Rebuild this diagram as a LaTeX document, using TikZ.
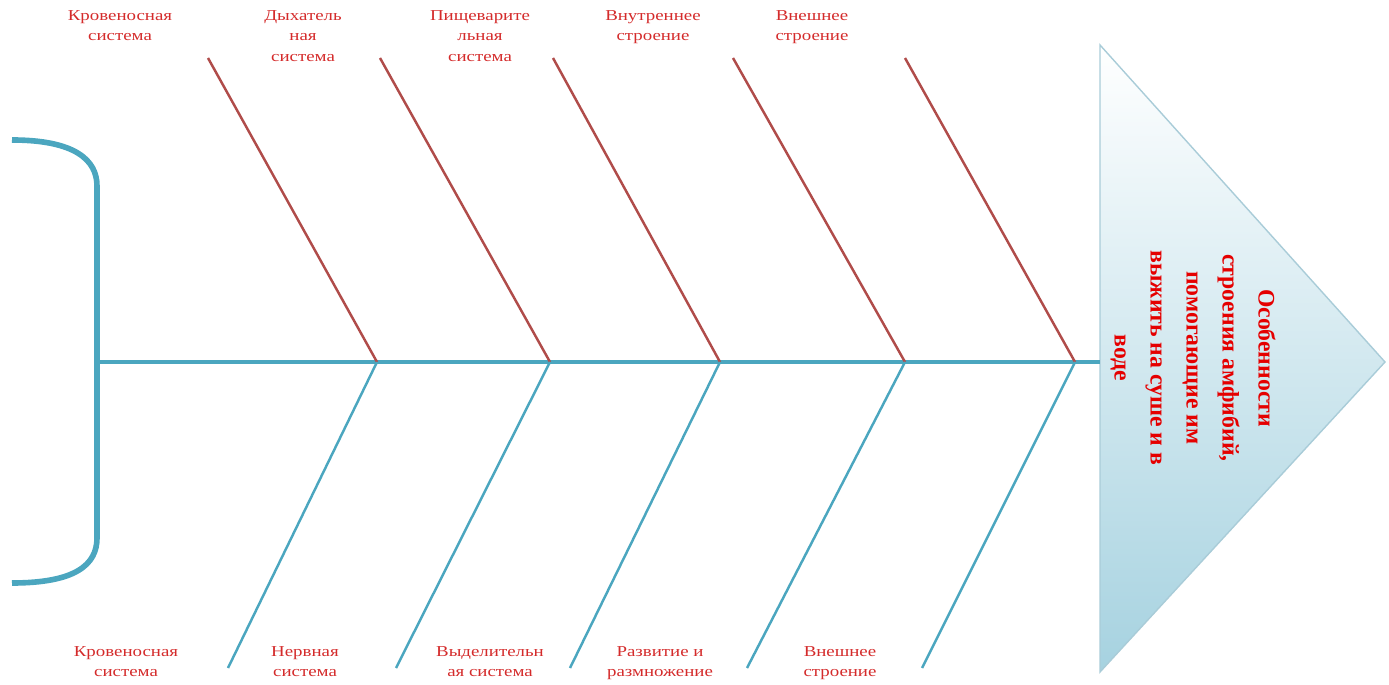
\documentclass[tikz,border=0pt]{standalone}
\usepackage{fontspec}
\setmainfont{Liberation Serif}
\newfontfamily\lblfont[FakeStretch=1.25]{Liberation Serif}
\usetikzlibrary{positioning}
\definecolor{spinecol}{HTML}{4BA6BF}
\definecolor{bonecol}{HTML}{B04C4A}
\definecolor{txtcol}{HTML}{D42B2B}
\definecolor{headcol}{HTML}{A6D2E0}
\definecolor{edgecol}{HTML}{A9CCD8}

\begin{document}
\begin{tikzpicture}[x=0.02cm, y=-0.02cm,
            upbone/.style = {bonecol, line width=1.4pt},
            lowbone/.style = {spinecol, line width=1.4pt},
            cause/.style = {text=txtcol, font=\lblfont\fontsize{8.6}{11.6}\selectfont, align=center, inner sep=0pt},
            goal/.style = {text=red!90!black, font=\bfseries\fontsize{13.5}{20.5}\selectfont, align=center, inner sep=0pt}]
            \useasboundingbox (0,0) rectangle (1389,685);
            % head
            \coordinate (htop) at (1100,45);
            \coordinate (hbot) at (1100,672);
            \coordinate (htip) at (1385,362);
            \shade[top color=white, bottom color=headcol, draw=edgecol, line width=0.8pt]
                (htop) -- (htip) -- (hbot) -- cycle;
            % spine and tail
            \coordinate (tail) at (97,362);
            \coordinate (mouth) at (1100,362);
            \coordinate (brtop) at (12,140);
            \coordinate (brbot) at (12,583);
            \coordinate (brup) at (97,186);
            \coordinate (brdown) at (97,538);
            \draw[spinecol, line width=2.8pt] (tail) -- (mouth);
            \draw[spinecol, line width=3.2pt] (brtop) .. controls (75,140) and (97,160) .. (brup)
                -- (brdown) .. controls (97,565) and (75,583) .. (brbot);
            % joints on the spine
            \coordinate (s1) at (377,362);
            \coordinate (s2) at (550,362);
            \coordinate (s3) at (720,362);
            \coordinate (s4) at (905,362);
            \coordinate (s5) at (1075,362);
            % upper bones
            \coordinate (u1) at (208,58);
            \coordinate (u2) at (380,58);
            \coordinate (u3) at (553,58);
            \coordinate (u4) at (733,58);
            \coordinate (u5) at (905,58);
            \draw[upbone] (u1) -- (s1);
            \draw[upbone] (u2) -- (s2);
            \draw[upbone] (u3) -- (s3);
            \draw[upbone] (u4) -- (s4);
            \draw[upbone] (u5) -- (s5);
            % lower bones
            \coordinate (d1) at (228,668);
            \coordinate (d2) at (396,668);
            \coordinate (d3) at (570,668);
            \coordinate (d4) at (747,668);
            \coordinate (d5) at (922,668);
            \draw[lowbone] (s1) -- (d1);
            \draw[lowbone] (s2) -- (d2);
            \draw[lowbone] (s3) -- (d3);
            \draw[lowbone] (s4) -- (d4);
            \draw[lowbone] (s5) -- (d5);
            % labels
            \node[cause, anchor=north] (c1) at (120,10) {Кровеносная\\система};
            \node[cause, anchor=north] (c2) at (303,10) {Дыхатель\\ная\\система};
            \node[cause, anchor=north] (c3) at (480,10) {Пищеварите\\льная\\система};
            \node[cause, anchor=north] (c4) at (653,10) {Внутреннее\\строение};
            \node[cause, anchor=north] (c5) at (812,10) {Внешнее\\строение};
            \node[cause, anchor=north] (e1) at (126,646) {Кровеносная\\система};
            \node[cause, anchor=north] (e2) at (305,646) {Нервная\\система};
            \node[cause, anchor=north] (e3) at (490,646) {Выделительн\\ая система};
            \node[cause, anchor=north] (e4) at (660,646) {Развитие и\\размножение};
            \node[cause, anchor=north] (e5) at (840,646) {Внешнее\\строение};
            \node[goal, rotate=-90] (fish) at (1193,358)
                {Особенности\\строения амфибий,\\помогающие им\\выжить на суше и в\\воде};
        \end{tikzpicture}
\end{document}
